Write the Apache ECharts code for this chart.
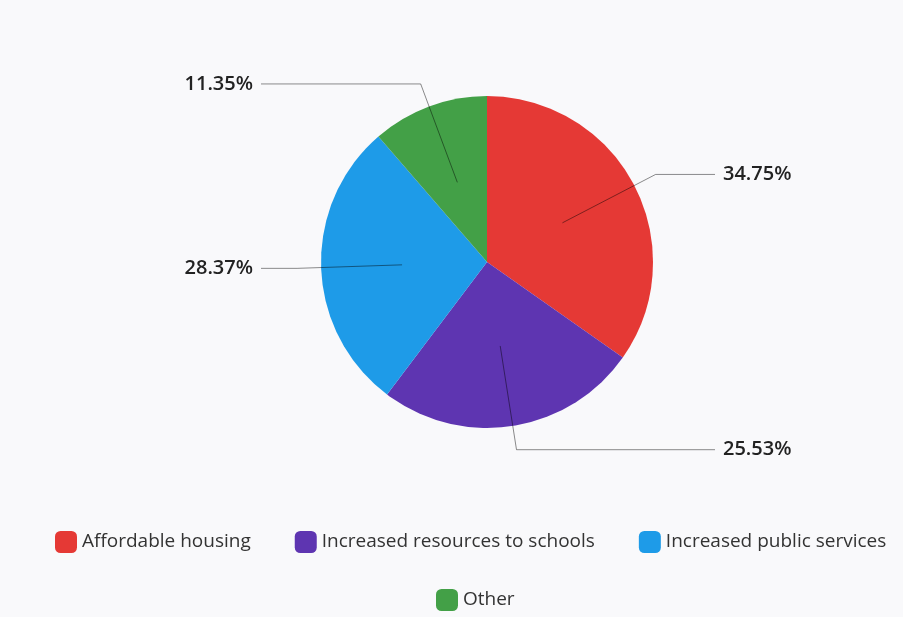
<!DOCTYPE html>
<html><head><meta charset="utf-8">
<script src="https://cdn.jsdelivr.net/npm/echarts@6/dist/echarts.min.js"></script>
<style>html,body{margin:0;padding:0;background:#f9f9fb}#c{width:903px;height:617px}</style>
</head><body><div id="c"></div>
<script>
const categories = ['Affordable housing', 'Increased resources to schools', 'Increased public services', 'Other'];
const values = [98, 72, 80, 32];
const colors = ['#e53935', '#5e35b1', '#1e9be8', '#43a047'];
const legendRow1 = ['Affordable housing', 'Increased resources to schools', 'Increased public services'];
const legendRow2 = ['Other'];

const CX = 487, CY = 262, R = 166, R_IN = 85, LEN1 = 105, RIGHT_END = 228, LEFT_END = 226;
const FONT = 'Open Sans';
const total = values.reduce((a, b) => a + b, 0);
let acc = 0;
const labelData = categories.map((name, i) => {
  const mid = (acc + values[i] / 2) / total * 2 * Math.PI;
  acc += values[i];
  const s = Math.sin(mid);
  const ex = CX + (R_IN + LEN1) * s;
  const len2 = s >= 0 ? (CX + RIGHT_END) - ex : ex - (CX - LEFT_END);
  return { name: name, value: values[i], labelLine: { length2: len2 } };
});
const pieData = categories.map((name, i) => ({ name: name, value: values[i] }));

const chart = echarts.init(document.getElementById('c'), null, { renderer: 'canvas' });
chart.setOption({
  backgroundColor: '#f9f9fb',
  color: colors,
  animation: false,
  legend: [
    { data: legendRow1, left: 50, top: 526, icon: 'roundRect', itemWidth: 22, itemHeight: 22, itemGap: 44,
      textStyle: { fontSize: 19, color: '#333', fontFamily: FONT } },
    { data: legendRow2, left: 431, top: 584, icon: 'roundRect', itemWidth: 22, itemHeight: 22,
      textStyle: { fontSize: 19, color: '#333', fontFamily: FONT } }
  ],
  series: [
    { type: 'pie', center: [CX, CY], radius: R, startAngle: 90, clockwise: true, silent: true,
      label: { show: false }, labelLine: { show: false }, data: pieData },
    { type: 'pie', center: [CX, CY], radius: R_IN, startAngle: 90, clockwise: true, silent: true, z: 5,
      avoidLabelOverlap: false,
      itemStyle: { color: 'rgba(0,0,0,0)' },
      label: { show: true, formatter: '{d}%', fontSize: 20, fontWeight: 600, color: '#222', fontFamily: FONT, distanceToLabelLine: 8 },
      labelLine: { show: true, length: LEN1, lineStyle: { color: 'rgba(0,0,0,0.45)', width: 1 } },
      emphasis: { disabled: true },
      data: labelData }
  ]
});
</script></body></html>
